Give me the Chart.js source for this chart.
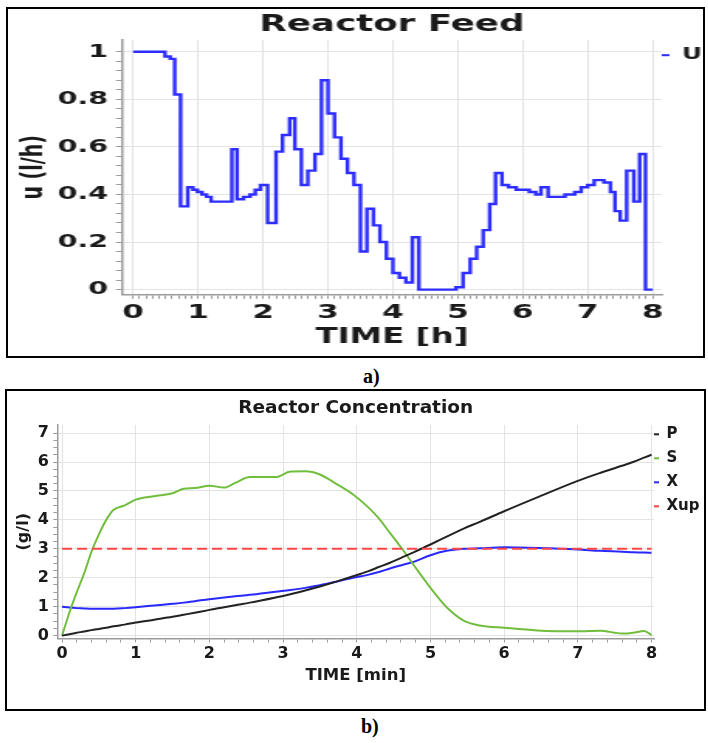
<!DOCTYPE html>
<html>
<head>
<meta charset="utf-8">
<script src="https://cdn.jsdelivr.net/npm/chart.js@4.4.1/dist/chart.umd.min.js"></script>
<style>
  body { margin:0; background:#fff; width:708px; height:743px; position:relative; overflow:hidden; }
  .frame { position:absolute; border:2px solid #000; box-sizing:border-box; }
  .tag { position:absolute; font:bold 20px "Liberation Serif", serif; line-height:20px; color:#000; }
  canvas { position:absolute; }
</style>
</head>
<body>
<div class="frame" style="left:6px;top:7px;width:699px;height:351px"></div>
<!-- feed chart is drawn narrow and stretched sideways, like the original screenshot -->
<canvas id="feed" width="448" height="347" style="left:8px;top:9px;width:694px;height:347px"></canvas>
<div class="tag" style="left:363px;top:366px">a)</div>
<div class="frame" style="left:5px;top:389px;width:701px;height:322px"></div>
<canvas id="conc" width="697" height="318" style="left:7px;top:391px;width:697px;height:318px"></canvas>
<div class="tag" style="left:361px;top:716px">b)</div>
<script>
// Reactor feed u (l/h): value holds from each time until the next one
const feedTime = [0, 0.49, 0.57, 0.64, 0.73, 0.84, 0.92, 0.99, 1.06, 1.13, 1.2, 1.52, 1.6, 1.7, 1.8, 1.88, 1.96,
  2.07, 2.2, 2.3, 2.41, 2.49, 2.59, 2.69, 2.8, 2.9, 3.0, 3.1, 3.2, 3.3, 3.4, 3.5, 3.6, 3.7, 3.8, 3.9,
  4.0, 4.1, 4.2, 4.3, 4.4, 4.97, 5.08, 5.19, 5.29, 5.39, 5.49, 5.58, 5.68, 5.78, 5.9, 6.1, 6.2, 6.28, 6.39,
  6.65, 6.8, 6.9, 7.0, 7.1, 7.25, 7.35, 7.42, 7.5, 7.6, 7.71, 7.8, 7.89, 8];
const feedU = [1, 0.98, 0.97, 0.82, 0.35, 0.43, 0.42, 0.41, 0.40, 0.39, 0.37, 0.59, 0.38, 0.39, 0.40, 0.42, 0.44,
  0.28, 0.58, 0.65, 0.72, 0.59, 0.44, 0.50, 0.57, 0.88, 0.74, 0.64, 0.55, 0.49, 0.44, 0.16, 0.34, 0.27, 0.20, 0.13,
  0.07, 0.05, 0.03, 0.22, 0, 0.01, 0.07, 0.13, 0.18, 0.25, 0.36, 0.49, 0.44, 0.43, 0.42, 0.41, 0.40, 0.43, 0.39,
  0.40, 0.41, 0.43, 0.44, 0.46, 0.45, 0.41, 0.33, 0.29, 0.50, 0.37, 0.57, 0, 0];

// Reactor concentration (g/l)
const concTime = [0, 0.1, 0.2, 0.3, 0.4, 0.5, 0.6, 0.7, 0.85, 1, 1.25, 1.5, 1.65, 1.8, 2, 2.2, 2.35, 2.55, 2.9,
  3.1, 3.3, 3.5, 3.7, 3.95, 4.15, 4.3, 4.45, 4.63, 4.77, 5, 5.22, 5.45, 5.67, 6, 6.45, 7, 7.3, 7.6, 7.75, 7.9, 8];
const concP = [0, 0.05, 0.1, 0.14, 0.19, 0.23, 0.27, 0.32, 0.38, 0.45, 0.55, 0.65, 0.72, 0.79, 0.89, 0.98, 1.05,
  1.14, 1.32, 1.43, 1.56, 1.7, 1.85, 2.05, 2.22, 2.37, 2.52, 2.72, 2.88, 3.15, 3.42, 3.7, 3.93, 4.3, 4.78, 5.35,
  5.62, 5.87, 6.0, 6.15, 6.25];
const concS = [0, 0.8, 1.5, 2.15, 2.9, 3.5, 4.0, 4.35, 4.5, 4.7, 4.82, 4.92, 5.08, 5.1, 5.18, 5.12, 5.28, 5.48,
  5.48, 5.67, 5.68, 5.57, 5.28, 4.88, 4.45, 4.05, 3.55, 2.95, 2.45, 1.65, 0.98, 0.52, 0.35, 0.27, 0.18, 0.15,
  0.17, 0.07, 0.1, 0.16, 0.02];
const concX = [1.0, 0.97, 0.95, 0.94, 0.93, 0.93, 0.93, 0.93, 0.95, 0.98, 1.04, 1.1, 1.14, 1.19, 1.26, 1.32, 1.36,
  1.41, 1.52, 1.58, 1.65, 1.74, 1.85, 2.0, 2.1, 2.2, 2.32, 2.45, 2.55, 2.78, 2.93, 3.0, 3.02, 3.05, 3.03, 2.98,
  2.93, 2.9, 2.88, 2.87, 2.86];
const xupTime = [0, 8];
const xupLevel = [3, 3];

Chart.defaults.font.family = '"DejaVu Sans", sans-serif';
Chart.defaults.font.weight = 'bold';
Chart.defaults.color = '#1a1a1a';

const gridGrey = '#e3e3e3';
const axisGrey = '#9c9c9c';

function pts(xs, ys) {
  return xs.map((x, i) => ({ x: x, y: ys[i] }));
}

// tick list incl. minor ticks
function tickRange(lo, hi, step) {
  let out = [];
  let n = Math.round((hi - lo) / step);
  for (let i = 0; i <= n; i++) out.push({ value: +(lo + i * step).toFixed(4) });
  return out;
}

function isMajor(v, every) {
  let r = v / every;
  return Math.abs(r - Math.round(r)) < 1e-6;
}

function legendItems(chart) {
  let items = Chart.defaults.plugins.legend.labels.generateLabels(chart);
  items.sort((a, b) => a.datasetIndex - b.datasetIndex);
  items.forEach(it => { it.fillStyle = it.strokeStyle; it.lineWidth = 0; it.lineDash = []; });
  return items;
}

// same, but one-line arrays so the row height follows the font lineHeight
function legendRows(chart) {
  let items = legendItems(chart);
  items.forEach(it => { it.text = [it.text]; });
  return items;
}

// ---- a) Reactor Feed
new Chart(document.getElementById('feed'), {
  type: 'line',
  data: {
    datasets: [{
      label: 'U',
      data: pts(feedTime, feedU),
      stepped: 'before',
      borderColor: 'rgb(45,45,255)',
      backgroundColor: 'rgb(45,45,255)',
      borderWidth: 2.4,
      pointRadius: 0,
      fill: false
    }]
  },
  options: {
    responsive: false,
    devicePixelRatio: 1,
    animation: false,
    plugins: {
      title: {
        display: true, text: 'Reactor Feed', fullSize: false, color: '#1a1a1a',
        font: { size: 23, weight: 'bold', lineHeight: 1 },
        padding: { top: 4.5, bottom: 3.3 }
      },
      legend: {
        position: 'right', align: 'start', maxWidth: 26,
        // empty title only pushes the entry down to the top grid line
        title: { display: true, text: '', font: { size: 3.5 }, padding: { top: 34, bottom: 0 } },
        labels: {
          boxWidth: 5, boxHeight: 2, padding: 0, color: '#1a1a1a',
          font: { size: 16, weight: 'bold' },
          generateLabels: legendItems
        }
      },
      tooltip: { enabled: false }
    },
    scales: {
      x: {
        type: 'linear', min: -0.17, max: 8.14,
        afterBuildTicks: s => { s.ticks = tickRange(0, 8, 0.1); },
        ticks: {
          autoSkip: false, maxRotation: 0, padding: 1.8, color: '#1a1a1a',
          font: { size: 20 },
          callback: v => isMajor(v, 1) ? String(Math.round(v)) : ''
        },
        grid: {
          color: c => (c.tick && isMajor(c.tick.value, 1)) ? gridGrey : 'rgba(0,0,0,0)',
          tickColor: axisGrey, tickLength: 4
        },
        border: { color: axisGrey, width: 1.5 },
        title: {
          display: true, text: 'TIME [h]', color: '#1a1a1a',
          font: { size: 21, lineHeight: 1.1 },
          padding: { top: 0, bottom: 6.45 }
        }
      },
      y: {
        type: 'linear', min: -0.022, max: 1.05,
        afterBuildTicks: s => { s.ticks = tickRange(0, 1, 0.04); },
        ticks: {
          autoSkip: false, padding: 5, color: '#1a1a1a',
          font: { size: 18.5 },
          callback: v => isMajor(v, 0.2) ? String(parseFloat(v.toFixed(1))) : ''
        },
        grid: {
          color: c => (c.tick && isMajor(c.tick.value, 0.2)) ? gridGrey : 'rgba(0,0,0,0)',
          tickColor: axisGrey, tickLength: 4
        },
        border: { color: axisGrey, width: 1.5 },
        title: {
          display: true, text: 'u (l/h)', color: '#1a1a1a',
          font: { size: 19, lineHeight: 1 },
          padding: { top: 7.9, bottom: 0 }
        }
      }
    }
  }
});

// ---- b) Reactor Concentration
new Chart(document.getElementById('conc'), {
  type: 'line',
  data: {
    datasets: [
      { label: 'P', data: pts(concTime, concP), borderColor: '#222222', backgroundColor: '#222222',
        borderWidth: 2, pointRadius: 0, cubicInterpolationMode: 'monotone' },
      { label: 'S', data: pts(concTime, concS), borderColor: 'rgb(112,190,60)', backgroundColor: 'rgb(112,190,60)',
        borderWidth: 2, pointRadius: 0, cubicInterpolationMode: 'monotone' },
      { label: 'X', data: pts(concTime, concX), borderColor: 'rgb(40,40,255)', backgroundColor: 'rgb(40,40,255)',
        borderWidth: 2, pointRadius: 0, cubicInterpolationMode: 'monotone' },
      { label: 'Xup', data: pts(xupTime, xupLevel), borderColor: 'rgb(255,70,70)', backgroundColor: 'rgb(255,70,70)',
        borderWidth: 2, borderDash: [10, 5], pointRadius: 0, order: -1 }
    ]
  },
  options: {
    responsive: false,
    devicePixelRatio: 1,
    animation: false,
    plugins: {
      title: {
        display: true, text: 'Reactor Concentration', fullSize: false, color: '#1a1a1a',
        font: { size: 18.5, weight: 'bold', lineHeight: 1 },
        padding: { top: 7.75, bottom: 7.75 }
      },
      legend: {
        position: 'right', align: 'start', maxWidth: 50,
        title: { display: true, text: '', font: { size: 4 }, padding: { top: 31, bottom: 0 } },
        labels: {
          boxWidth: 5, boxHeight: 2, padding: 0, color: '#1a1a1a',
          font: { size: 15, weight: 'bold', lineHeight: 1.6 },
          generateLabels: legendRows
        }
      },
      tooltip: { enabled: false }
    },
    scales: {
      x: {
        type: 'linear', min: -0.064, max: 8.034,
        afterBuildTicks: s => { s.ticks = tickRange(0, 8, 0.2); },
        ticks: {
          autoSkip: false, maxRotation: 0, padding: 2, color: '#1a1a1a',
          font: { size: 16 },
          callback: v => isMajor(v, 1) ? String(Math.round(v)) : ''
        },
        grid: {
          color: c => (c.tick && isMajor(c.tick.value, 1)) ? gridGrey : 'rgba(0,0,0,0)',
          tickColor: axisGrey, tickLength: 4
        },
        border: { color: axisGrey, width: 1.5 },
        title: {
          display: true, text: 'TIME [min]', color: '#1a1a1a',
          font: { size: 16.5, lineHeight: 1.2 },
          padding: { top: 0, bottom: 23.5 }
        }
      },
      y: {
        type: 'linear', min: -0.1, max: 7.28,
        afterBuildTicks: s => { s.ticks = tickRange(0, 7, 0.25); },
        ticks: {
          autoSkip: false, padding: 4.5, color: '#1a1a1a',
          font: { size: 16 },
          callback: v => isMajor(v, 1) ? String(Math.round(v)) : ''
        },
        grid: {
          color: c => (c.tick && isMajor(c.tick.value, 1)) ? gridGrey : 'rgba(0,0,0,0)',
          tickColor: axisGrey, tickLength: 4
        },
        border: { color: axisGrey, width: 1.5 },
        title: {
          display: true, text: '(g/l)', color: '#1a1a1a',
          font: { size: 16, lineHeight: 1.2 },
          padding: { top: 7, bottom: 0 }
        }
      }
    }
  }
});
</script>
</body>
</html>
